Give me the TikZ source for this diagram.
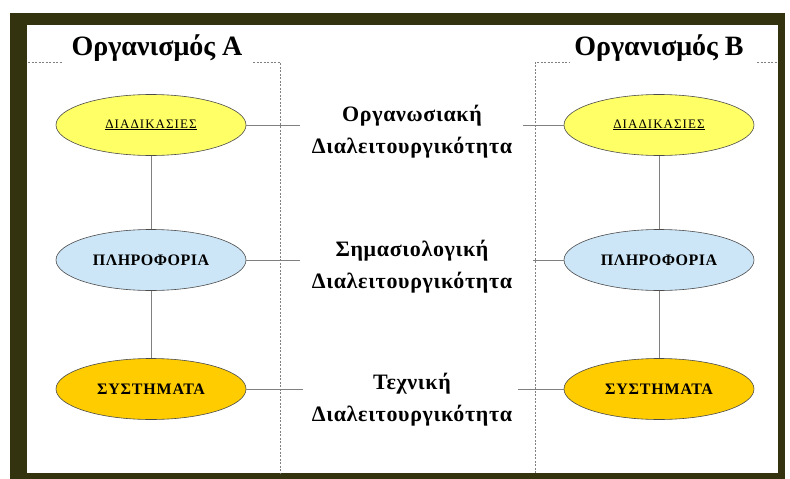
\documentclass[tikz,border=0pt]{standalone}
\usepackage{fontspec}
\setmainfont{Liberation Serif}
\usetikzlibrary{shapes.geometric}
\definecolor{frameolive}{HTML}{33330F}
\definecolor{procyellow}{HTML}{FFFF66}
\definecolor{infoblue}{HTML}{CDE6F7}
\definecolor{sysgold}{HTML}{FFCC00}
\definecolor{linegray}{HTML}{808080}
\begin{document}
\begin{tikzpicture}[x=1pt,y=-1pt,
  blob/.style={ellipse,draw=black!70,line width=0.6pt,minimum width=190pt,minimum height=61pt,inner sep=0pt},
  proc/.style={blob,fill=procyellow,font=\fontsize{13}{15}\selectfont\addfontfeature{LetterSpace=8}},
  info/.style={blob,fill=infoblue,font=\fontsize{16}{18}\selectfont\bfseries\addfontfeature{LetterSpace=3}},
  sys/.style={blob,fill=sysgold,font=\fontsize{16}{18}\selectfont\bfseries\addfontfeature{LetterSpace=5}},
  title/.style={font=\fontsize{28}{32}\selectfont\bfseries},
  level/.style={align=center,font=\fontsize{22}{32}\selectfont\bfseries\addfontfeature{LetterSpace=3}},
  link/.style={draw=linegray,line width=0.8pt},
  zone/.style={draw=linegray,line width=0.6pt,dash pattern=on 2pt off 1.5pt}]
% page and framed panel
\useasboundingbox (0,0) rectangle (790,479);
\fill[white] (0,0) rectangle (790,479);
\fill[frameolive] (10,13) rectangle (785,479);
\fill[white] (27,25) rectangle (778,473);
% organisation zones
\coordinate (la) at (28,62);  \coordinate (lb) at (62,62);
\coordinate (lc) at (253,62); \coordinate (ld) at (280,62);
\coordinate (le) at (280,473);
\coordinate (ra) at (535,473); \coordinate (rb) at (535,62);
\coordinate (rc) at (570,62);  \coordinate (rd) at (757,62);
\coordinate (re) at (777,62);
\draw[zone] (la) -- (lb);
\draw[zone] (lc) -- (ld) -- (le);
\draw[zone] (ra) -- (rb) -- (rc);
\draw[zone] (rd) -- (re);
\node[title] (ta) at (157,48) {Οργανισμός Α};
\node[title] (tb) at (659,48) {Οργανισμός Β};
% left organisation
\node[proc] (pa) at (151,125) {\underline{ΔΙΑΔΙΚΑΣΙΕΣ}};
\node[info] (ia) at (151,260) {ΠΛΗΡΟΦΟΡΙΑ};
\node[sys]  (sa) at (151,389) {ΣΥΣΤΗΜΑΤΑ};
% right organisation
\node[proc] (pb) at (659,125) {\underline{ΔΙΑΔΙΚΑΣΙΕΣ}};
\node[info] (ib) at (659,260) {ΠΛΗΡΟΦΟΡΙΑ};
\node[sys]  (sb) at (659,389) {ΣΥΣΤΗΜΑΤΑ};
% interoperability levels
\node[level] (l1) at (412,132) {Οργανωσιακή\\Διαλειτουργικότητα};
\node[level] (l2) at (412,267) {Σημασιολογική\\Διαλειτουργικότητα};
\node[level] (l3) at (412,400) {Τεχνική\\Διαλειτουργικότητα};
% stacks
\draw[link] (pa) -- (ia);
\draw[link] (ia) -- (sa);
\draw[link] (pb) -- (ib);
\draw[link] (ib) -- (sb);
% ties towards the level labels
\coordinate (h1a) at (300,125); \coordinate (h1b) at (523,125);
\coordinate (h2a) at (300,260); \coordinate (h2b) at (533,260);
\coordinate (h3a) at (303,389); \coordinate (h3b) at (518,389);
\draw[link] (pa.east) -- (h1a);
\draw[link] (h1b) -- (pb.west);
\draw[link,line width=0.5pt] (ia.east) -- (h2a);
\draw[link,line width=0.5pt] (h2b) -- (ib.west);
\draw[link,line width=0.5pt] (sa.east) -- (h3a);
\draw[link,line width=0.5pt] (h3b) -- (sb.west);
\end{tikzpicture}
\end{document}
